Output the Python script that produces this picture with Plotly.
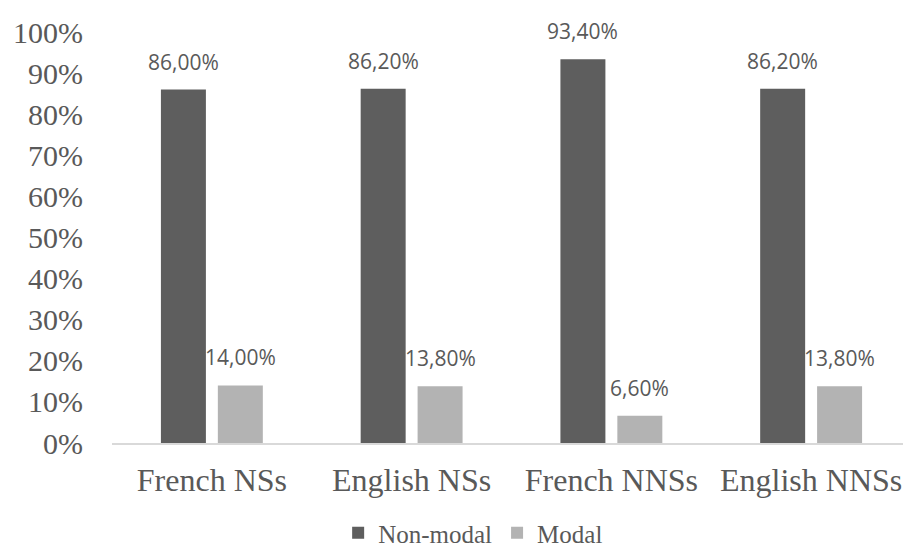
import plotly.graph_objects as go

categories = ["French NSs", "English NSs", "French NNSs", "English NNSs"]
non_modal = [0.860, 0.862, 0.934, 0.862]
modal = [0.140, 0.138, 0.066, 0.138]
series_names = ["Non-modal", "Modal"]
tick_vals = [i / 10 for i in range(11)]
tick_text = [f"{i*10}%" for i in range(11)]

colors = ["#5e5e5e", "#b3b3b3"]
text_color = "#595959"
serif = "Liberation Serif"

def fmt(v):
    return f"{v*100:.2f}".replace(".", ",") + "%"

fig = go.Figure()
for name, vals, col in zip(series_names, [non_modal, modal], colors):
    fig.add_trace(go.Bar(
        x=categories, y=vals, name=name,
        marker=dict(color=col, line=dict(width=0)),
        hoverinfo="skip",
    ))

annotations = []
for vals, shift in [(non_modal, -28.5), (modal, 28.5)]:
    for c, v in zip(categories, vals):
        annotations.append(dict(
            x=c, y=v, xref="x", yref="y", text=fmt(v), showarrow=False,
            xshift=shift, yshift=12, yanchor="bottom",
            font=dict(family="Open Sans", size=21, color=text_color),
        ))

fig.update_layout(
    width=903, height=539,
    margin=dict(l=104, r=0, t=24, b=104, autoexpand=False),
    paper_bgcolor="white", plot_bgcolor="white",
    font=dict(family=serif, color=text_color),
    bargap=0.43, bargroupgap=0.21,
    barmode="group",
    annotations=annotations,
    showlegend=True,
    legend=dict(
        orientation="h", x=0.452, xanchor="center",
        y=-0.219, yanchor="middle",
        font=dict(family=serif, size=25, color=text_color),
        traceorder="normal",
    ),
    xaxis=dict(
        showgrid=False, showline=True, linecolor="#d9d9d9", linewidth=2,
        ticks="", tickfont=dict(family=serif, size=32, color=text_color),
        ticklabelstandoff=8, automargin=False,
    ),
    yaxis=dict(
        range=[0, 1], showgrid=False, showline=False, zeroline=False,
        tickvals=tick_vals, ticktext=tick_text, ticks="",
        tickfont=dict(family=serif, size=30, color=text_color),
        ticklabelstandoff=28, automargin=False,
    ),
)

fig.write_html("out.html")
